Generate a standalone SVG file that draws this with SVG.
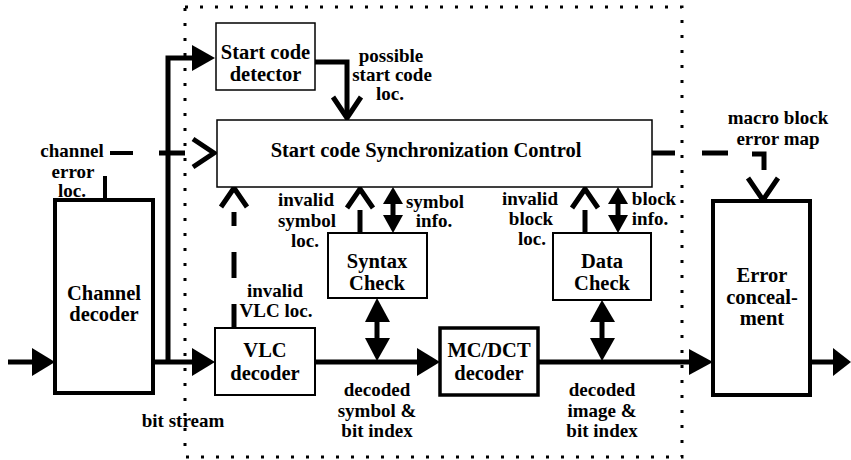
<svg xmlns="http://www.w3.org/2000/svg" width="851" height="460" viewBox="0 0 851 460">
<style>
.bg{fill:#fff}
.box{fill:#fff;stroke:#000}
.t{font-family:"Liberation Serif","Times New Roman",serif;font-weight:bold;font-size:20.5px;text-anchor:middle;fill:#000}
.l{font-family:"Liberation Serif","Times New Roman",serif;font-weight:bold;font-size:19px;text-anchor:middle;fill:#000}
.ln{fill:none;stroke:#000;stroke-width:5}
.open{fill:none;stroke:#000;stroke-width:5;stroke-linejoin:miter}
.hd{fill:#000;stroke:none}
.dot{fill:none;stroke:#000;stroke-width:3;stroke-dasharray:3 12}
</style>
<rect class="bg" x="0" y="0" width="851" height="460"/>
<rect id="boundary" class="dot" x="185" y="7" width="497" height="450"/>

<g id="connectors">
  <!-- input -->
  <line class="ln" x1="8" y1="362" x2="34" y2="362"/>
  <polygon class="hd" points="32,348 55,362 32,376"/>
  <!-- bit stream to VLC -->
  <line class="ln" x1="153" y1="362" x2="194" y2="362"/>
  <polygon class="hd" points="192,348 215,362 192,376"/>
  <!-- bus to start code detector -->
  <polyline class="ln" points="168,364 168,58 194,58"/>
  <polygon class="hd" points="192,45 215,58 192,71"/>
  <!-- possible start code loc -->
  <polyline class="ln" points="315,62 347,62 347,117"/>
  <polyline class="open" points="333,97 347,118 361,97"/>
  <!-- channel error loc (dashed) -->
  <line class="ln" x1="105" y1="176" x2="105" y2="200" style="stroke-width:4"/>
  <line class="ln" x1="110" y1="153" x2="133" y2="153" style="stroke-width:4"/>
  <line class="ln" x1="159" y1="153" x2="185" y2="153"/>
  <polyline class="open" points="193,139 214,153 193,167"/>
  <!-- invalid VLC loc (dashed) -->
  <line class="ln" x1="234" y1="304" x2="234" y2="328"/>
  <line class="ln" x1="234" y1="252" x2="234" y2="278"/>
  <line class="ln" x1="234" y1="212" x2="234" y2="226"/>
  <polyline class="open" points="221,207 234,188 247,207"/>
  <!-- invalid symbol loc -->
  <polyline class="open" points="347,208 360,189 373,208"/>
  <line class="ln" x1="360" y1="210" x2="360" y2="233"/>
  <!-- symbol info -->
  <line class="ln" x1="393" y1="200" x2="393" y2="220"/>
  <polygon class="hd" points="383,204 393,187 403,204"/>
  <polygon class="hd" points="383,215 393,233 403,215"/>
  <!-- syntax check to data line -->
  <line class="ln" x1="377" y1="318" x2="377" y2="342"/>
  <polygon class="hd" points="365,322 377,298 390,322"/>
  <polygon class="hd" points="365,338 377,361 390,338"/>
  <!-- VLC to MC/DCT -->
  <line class="ln" x1="315" y1="362" x2="419" y2="362"/>
  <polygon class="hd" points="417,348 440,362 417,376"/>
  <!-- MC/DCT to error concealment -->
  <line class="ln" x1="538" y1="362" x2="691" y2="362"/>
  <polygon class="hd" points="689,349 713,362 689,375"/>
  <!-- data check to image line -->
  <line class="ln" x1="602" y1="318" x2="602" y2="342"/>
  <polygon class="hd" points="590,322 602,300 615,322"/>
  <polygon class="hd" points="590,338 602,361 615,338"/>
  <!-- invalid block loc -->
  <polyline class="open" points="572,208 585,189 598,208"/>
  <line class="ln" x1="585" y1="210" x2="585" y2="233"/>
  <!-- block info -->
  <line class="ln" x1="618" y1="200" x2="618" y2="220"/>
  <polygon class="hd" points="608,204 618,187 628,204"/>
  <polygon class="hd" points="608,215 618,233 628,215"/>
  <!-- macro block error map (dashed) -->
  <line class="ln" x1="652" y1="153" x2="675" y2="153"/>
  <line class="ln" x1="702" y1="153" x2="728" y2="153"/>
  <polyline class="ln" points="752,154 764,154 764,170"/>
  <polyline class="open" points="748,178 763,200 778,178"/>
  <!-- output -->
  <line class="ln" x1="810" y1="362" x2="835" y2="362"/>
  <polygon class="hd" points="833,348 851,362 833,376"/>
</g>

<g id="start-code-detector">
  <rect class="box" x="216" y="23" width="99" height="67" style="stroke-width:1.5"/>
  <text class="t" x="265.5" y="59">Start code</text>
  <text class="t" x="265.5" y="81">detector</text>
</g>
<g id="sync-control">
  <rect class="box" x="217" y="120" width="435" height="67" style="stroke-width:1.5"/>
  <text class="t" x="426" y="157">Start code Synchronization Control</text>
</g>
<g id="channel-decoder">
  <rect class="box" x="55" y="200" width="98" height="193" style="stroke-width:4"/>
  <text class="t" x="104" y="300">Channel</text>
  <text class="t" x="104" y="321">decoder</text>
</g>
<g id="vlc-decoder">
  <rect class="box" x="215" y="328" width="100" height="67" style="stroke-width:2"/>
  <text class="t" x="265" y="357">VLC</text>
  <text class="t" x="265" y="380">decoder</text>
</g>
<g id="syntax-check">
  <rect class="box" x="328" y="233" width="99" height="65" style="stroke-width:2"/>
  <text class="t" x="377" y="268">Syntax</text>
  <text class="t" x="377" y="290">Check</text>
</g>
<g id="mcdct-decoder">
  <rect class="box" x="440" y="328" width="98" height="67" style="stroke-width:3.5"/>
  <text class="t" x="489" y="357">MC/DCT</text>
  <text class="t" x="489" y="380">decoder</text>
</g>
<g id="data-check">
  <rect class="box" x="553" y="233" width="98" height="67" style="stroke-width:2"/>
  <text class="t" x="602" y="268">Data</text>
  <text class="t" x="602" y="290">Check</text>
</g>
<g id="error-concealment">
  <rect class="box" x="713" y="201" width="97" height="194" style="stroke-width:4"/>
  <text class="t" x="762" y="282">Error</text>
  <text class="t" x="762" y="304">conceal-</text>
  <text class="t" x="762" y="325">ment</text>
</g>

<g id="labels">
  <text class="l" x="391" y="62">possible</text>
  <text class="l" x="392" y="81">start code</text>
  <text class="l" x="390" y="100">loc.</text>
  <text class="l" x="72" y="157">channel</text>
  <text class="l" x="73" y="178">error</text>
  <text class="l" x="72" y="197">loc.</text>
  <text class="l" x="306" y="206">invalid</text>
  <text class="l" x="307" y="227">symbol</text>
  <text class="l" x="305" y="247">loc.</text>
  <text class="l" x="435" y="208">symbol</text>
  <text class="l" x="434" y="227">info.</text>
  <text class="l" x="530" y="205">invalid</text>
  <text class="l" x="531" y="225">block</text>
  <text class="l" x="532" y="245">loc.</text>
  <text class="l" x="654" y="205">block</text>
  <text class="l" x="650" y="225">info.</text>
  <text class="l" x="778" y="124">macro block</text>
  <text class="l" x="778" y="145">error map</text>
  <text class="l" x="275" y="297">invalid</text>
  <text class="l" x="276" y="317">VLC loc.</text>
  <text class="l" x="183" y="427">bit stream</text>
  <text class="l" x="377" y="396">decoded</text>
  <text class="l" x="377" y="417">symbol &amp;</text>
  <text class="l" x="377" y="437">bit index</text>
  <text class="l" x="602" y="396">decoded</text>
  <text class="l" x="602" y="417">image &amp;</text>
  <text class="l" x="602" y="437">bit index</text>
</g>
</svg>
